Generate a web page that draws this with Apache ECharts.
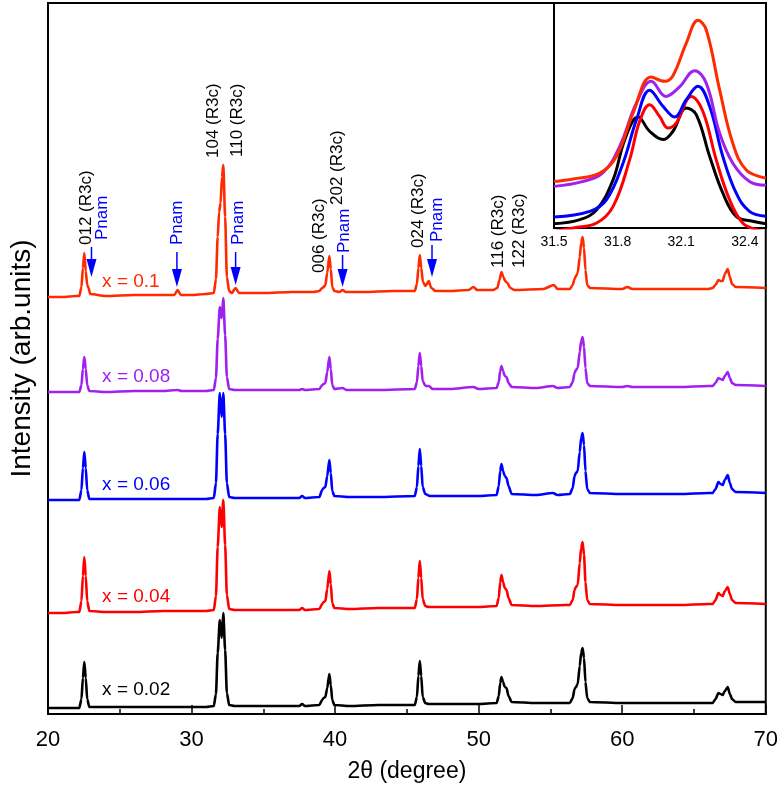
<!DOCTYPE html>
<html><head><meta charset="utf-8">
<script src="https://cdn.jsdelivr.net/npm/echarts@6/dist/echarts.min.js"></script>
<style>html,body{margin:0;padding:0;background:#fff}#c{width:781px;height:790px}</style>
</head><body><div id="c"></div>
<script>
// ---- DATA (2θ in degrees, intensity in arbitrary units above each pattern's own start level) ----
const sampleNames = ['x = 0.02', 'x = 0.04', 'x = 0.06', 'x = 0.08', 'x = 0.1'];
const stackOffsets = [6, 101, 214, 322, 417];

const pattern002 = [[20,0],[21,0],[22,0],[22.18,0],[22.33,9],[22.43,30],[22.53,46],[22.63,30],[22.73,9],[22.88,1],[23.5,1],[25,1],[27,1],[29,1],[30,1],[31,1],[31.55,2],[31.7,14],[31.82,55],[31.97,88],[32.1,70],[32.21,95],[32.34,58],[32.46,15],[32.62,3],[33,2],[35,2],[37.5,2],[37.7,4],[37.9,2],[38.9,3],[39.1,8],[39.2,10],[39.32,11],[39.45,20],[39.6,34],[39.7,23],[39.8,8],[39.95,3],[41,2],[43,3],[45.55,3],[45.7,11],[45.8,32],[45.9,47],[46.0,32],[46.1,11],[46.28,5],[46.5,4],[48,4],[50,4],[51.25,5],[51.4,12],[51.5,25],[51.59,31],[51.7,26],[51.82,21],[51.94,20],[52.08,12],[52.3,6],[54,5],[56,5],[56.35,5],[56.55,10],[56.68,19],[56.78,21],[56.9,24],[57.04,42],[57.14,55],[57.24,60],[57.34,50],[57.44,26],[57.56,10],[57.75,6],[60,5],[62,5],[64,5],[66,5],[66.3,5],[66.5,9],[66.7,15],[66.85,14],[67.0,13],[67.15,17],[67.35,21],[67.5,14],[67.65,9],[67.9,6],[70,6]];
const pattern004 = [[20,0],[21,0],[22,1],[22.18,1],[22.33,12],[22.43,37],[22.53,56],[22.63,37],[22.73,12],[22.88,2],[24,1],[26,1],[28,2],[30,2],[31,2],[31.55,3],[31.7,17],[31.82,66],[31.97,106],[32.1,86],[32.21,113],[32.34,68],[32.46,18],[32.62,4],[33,3],[35,3],[37.5,3],[37.7,5],[37.9,3],[38.9,4],[39.1,9],[39.2,11],[39.32,12],[39.45,24],[39.6,42],[39.7,29],[39.8,10],[39.95,5],[41,4],[43,5],[45.55,5],[45.7,14],[45.8,35],[45.9,52],[46.0,35],[46.1,14],[46.28,7],[46.5,6],[48,6],[50,6],[51.25,7],[51.4,15],[51.5,31],[51.59,38],[51.7,31],[51.82,25],[51.94,23],[52.08,15],[52.3,8],[54,7],[56,8],[56.35,8],[56.55,13],[56.68,23],[56.78,26],[56.9,28],[57.04,50],[57.14,65],[57.24,71],[57.34,58],[57.44,31],[57.56,13],[57.75,9],[60,8],[62,8],[64,8],[66,9],[66.3,9],[66.5,13],[66.7,20],[66.85,18],[67.0,17],[67.15,22],[67.35,26],[67.5,19],[67.65,13],[67.9,10],[70,9]];
const pattern006 = [[20,0],[21,0],[22,0],[22.18,0],[22.33,10],[22.43,32],[22.53,48],[22.63,32],[22.73,10],[22.88,1],[24,1],[26,1],[28,1],[30,1],[31,1],[31.55,2],[31.7,17],[31.82,66],[31.97,107],[32.1,83],[32.21,107],[32.34,66],[32.46,17],[32.62,3],[33,2],[35,2],[37.5,2],[37.7,4],[37.9,2],[38.9,3],[39.1,10],[39.2,12],[39.32,13],[39.45,24],[39.6,40],[39.7,27],[39.8,9],[39.95,4],[41,3],[43,3],[45.55,4],[45.7,13],[45.8,34],[45.9,51],[46.0,34],[46.1,13],[46.28,6],[46.6,4],[48,4],[50,4],[51.25,5],[51.4,14],[51.5,29],[51.59,36],[51.7,29],[51.82,24],[51.94,22],[52.08,14],[52.3,6],[54,5],[55.17,7],[55.5,5],[56.35,6],[56.55,12],[56.68,24],[56.78,27],[56.9,29],[57.04,48],[57.14,62],[57.24,67],[57.34,55],[57.44,29],[57.56,11],[57.75,7],[60,6],[62,6],[64,6],[66,7],[66.3,7],[66.5,11],[66.7,18],[66.85,16],[67.0,15],[67.15,20],[67.35,25],[67.5,17],[67.65,11],[67.9,8],[70,7]];
const pattern008 = [[20,0],[21,0],[22,0],[22.18,0],[22.33,7],[22.43,23],[22.53,35],[22.63,23],[22.73,7],[22.88,1],[24,0],[26,1],[28,1],[29.03,2],[29.3,1],[31,1],[31.55,2],[31.7,14],[31.82,53],[31.97,85],[32.1,74],[32.21,94],[32.34,57],[32.46,15],[32.62,3],[33,2],[35,2],[37.5,2],[37.7,3],[37.9,2],[38.9,3],[39.1,7],[39.2,8],[39.32,9],[39.45,20],[39.6,35],[39.7,23],[39.8,7],[39.95,3],[40.52,4],[40.8,2],[43,2],[45.55,3],[45.7,10],[45.8,26],[45.9,39],[46.0,26],[46.1,11],[46.3,6],[46.52,6],[46.8,3],[48,3],[49.63,5],[50,3],[51.25,4],[51.4,10],[51.5,21],[51.59,26],[51.7,21],[51.82,16],[51.94,15],[52.08,9],[52.3,5],[54,4],[55.17,6],[55.5,4],[56.35,5],[56.55,10],[56.68,19],[56.78,22],[56.9,24],[57.04,40],[57.14,51],[57.24,55],[57.34,45],[57.44,24],[57.56,9],[57.75,6],[60,5],[60.36,6],[60.7,5],[62,5],[64,5],[66,6],[66.3,6],[66.5,9],[66.7,14],[66.85,13],[67.0,12],[67.15,16],[67.35,20],[67.5,14],[67.65,9],[67.9,7],[70,6]];
const pattern01 = [[20,0],[21,0],[22,1],[22.18,1],[22.33,10],[22.43,29],[22.53,44],[22.63,26],[22.73,12],[22.8,10],[22.95,3],[24,1],[26,2],[28,2],[28.8,2],[29.03,7],[29.25,2],[30,2],[31,3],[31.55,4],[31.7,18],[31.82,60],[31.92,85],[32.02,94],[32.12,120],[32.21,132],[32.34,80],[32.46,20],[32.62,6],[32.8,4],[33.07,9],[33.3,4],[35,4],[37,5],[38.5,5],[38.9,6],[39.1,9],[39.2,10],[39.32,12],[39.45,24],[39.6,41],[39.7,28],[39.8,10],[39.95,6],[40.3,5],[40.52,7],[40.75,5],[42,5],[44,6],[45.55,6],[45.7,13],[45.8,29],[45.9,42],[46.0,29],[46.12,15],[46.3,11],[46.52,16],[46.7,9],[47,6],[48,6],[49.3,7],[49.63,10],[49.9,7],[51,7],[51.3,9],[51.45,17],[51.59,25],[51.72,20],[51.85,16],[52.0,14],[52.2,9],[52.5,7],[54.5,8],[55.24,12],[55.5,8],[56.35,8],[56.55,12],[56.68,18],[56.78,21],[56.9,24],[57.04,40],[57.14,54],[57.24,60],[57.34,49],[57.44,27],[57.56,12],[57.75,9],[60,8],[60.36,10],[60.7,8],[62,8],[64,8],[66,8],[66.3,9],[66.5,12],[66.7,17],[66.85,16],[67.0,16],[67.15,23],[67.35,28],[67.5,20],[67.65,13],[67.9,10],[70,9]];

// Inset: zoom of the (104)/(110) doublet, intensity scaled 0-100
const inset002 = [[31.5,1.9],[31.622,3.7],[31.701,8.1],[31.779,21.5],[31.834,39.3],[31.897,49.3],[31.951,43.0],[32.014,39.3],[32.061,43.0],[32.124,53.3],[32.171,50.4],[32.234,31.9],[32.296,15.6],[32.359,5.2],[32.437,3.0],[32.5,1.9]];
const inset004 = [[31.5,-1.5],[31.591,0],[31.701,2.2],[31.779,9.6],[31.857,30.4],[31.904,47.4],[31.951,54.8],[31.998,49.6],[32.038,44.4],[32.077,46.7],[32.147,58.5],[32.202,51.9],[32.265,30.4],[32.328,12.6],[32.39,2.2],[32.453,-0.7],[32.5,-1.5]];
const inset006 = [[31.5,4.9],[31.669,7.4],[31.748,12.6],[31.826,28.9],[31.889,48.1],[31.951,61.2],[32.014,54.1],[32.069,49.3],[32.124,57.0],[32.179,63.0],[32.234,54.1],[32.296,31.9],[32.359,15.6],[32.422,7.4],[32.5,5.2]];
const inset008 = [[31.5,18.5],[31.638,20.7],[31.732,24.7],[31.81,36.3],[31.889,55.6],[31.959,65.2],[32.027,58.5],[32.092,62.7],[32.163,69.9],[32.218,64.4],[32.281,42.2],[32.343,28.9],[32.422,20.7],[32.5,19.0]];
const inset01 = [[31.5,20.7],[31.59,21.8],[31.716,24.4],[31.795,31.9],[31.873,51.1],[31.959,67.1],[32.022,65.2],[32.061,67.7],[32.124,82.2],[32.179,92.3],[32.218,88.1],[32.281,61.5],[32.343,37.8],[32.406,25.9],[32.5,22.2]];

const mainPatterns = [pattern002, pattern004, pattern006, pattern008, pattern01];
const insetPatterns = [inset002, inset004, inset006, inset008, inset01];

// ---- STYLE / LAYOUT ----
const colors = ['#000000', '#ff0000', '#0000ff', '#a020f0', '#ff2a00'];
const FONT = '"Liberation Sans", Arial, sans-serif';
const BLUE = '#0000ff';

const chart = echarts.init(document.getElementById('c'), null, {renderer: 'canvas'});

const series = [];
mainPatterns.forEach((p, i) => {
  series.push({
    type: 'line', xAxisIndex: 0, yAxisIndex: 0, showSymbol: false, silent: true,
    smooth: 0.25, smoothMonotone: 'x',
    data: p.map(d => [d[0], d[1] + stackOffsets[i]]),
    lineStyle: {color: colors[i], width: 2.6}, z: 2 + i
  });
});
insetPatterns.forEach((p, i) => {
  series.push({
    type: 'line', xAxisIndex: 1, yAxisIndex: 1, showSymbol: false, silent: true,
    smooth: 0.4, clip: true,
    data: p,
    lineStyle: {color: colors[i], width: 3}, z: 20 + i
  });
});

chart.setOption({
  animation: false,
  backgroundColor: '#fff',
  textStyle: {fontFamily: FONT},
  grid: [
    {left: 43, right: 15, top: 3, bottom: 76, show: true, borderColor: '#000', borderWidth: 2, backgroundColor: 'rgba(0,0,0,0)'},
    {left: 554, right: 15, top: 3, bottom: 562, show: true, borderColor: '#000', borderWidth: 2, backgroundColor: '#fff', z: 10}
  ],
  xAxis: [
    {gridIndex: 0, type: 'value', min: 20, max: 70, interval: 10,
     axisLine: {show: true, lineStyle: {color: '#000', width: 2}},
     axisTick: {show: true, inside: true, length: 9, lineStyle: {color: '#000', width: 1.5}},
     minorTick: {show: true, splitNumber: 2, length: 5, lineStyle: {color: '#000', width: 1.5}},
     splitLine: {show: false},
     axisLabel: {color: '#000', fontSize: 22, margin: 15, fontFamily: FONT},
     name: '2θ (degree)', nameLocation: 'middle', nameGap: 46,
     nameTextStyle: {color: '#000', fontSize: 23, fontFamily: FONT}},
    {gridIndex: 1, type: 'value', min: 31.5, max: 32.5, interval: 0.3,
     axisLine: {show: true, lineStyle: {color: '#000', width: 2}},
     axisTick: {show: true, inside: true, length: 5, lineStyle: {color: '#000', width: 1.2}},
     minorTick: {show: true, splitNumber: 2, length: 5, lineStyle: {color: '#000', width: 1.2}},
     splitLine: {show: false},
     axisLabel: {color: '#000', fontSize: 14, margin: 7, showMaxLabel: false, fontFamily: FONT,
                 formatter: v => v.toFixed(1)}}
  ],
  yAxis: [
    {gridIndex: 0, type: 'value', min: 0, max: 711,
     axisLine: {show: true, lineStyle: {color: '#000', width: 2}},
     axisTick: {show: false}, axisLabel: {show: false}, splitLine: {show: false},
     name: 'Intensity (arb.units)', nameLocation: 'middle', nameGap: 12, nameRotate: 90,
     nameTextStyle: {color: '#000', fontSize: 28, fontFamily: FONT}},
    {gridIndex: 1, type: 'value', min: 0, max: 100, show: false}
  ],
  series: series
});

// ---- ANNOTATIONS (anchored in data coordinates through the axes) ----
const peakLabels = [
  {t: '012 (R3c)', x: 22.64, y: 469, c: '#000'},
  {t: 'Pnam', x: 23.75, y: 474, c: BLUE},
  {t: 'Pnam', x: 29.03, y: 469, c: BLUE},
  {t: '104 (R3c)', x: 31.52, y: 556, c: '#000'},
  {t: '110 (R3c)', x: 33.18, y: 557, c: '#000'},
  {t: 'Pnam', x: 33.25, y: 469, c: BLUE},
  {t: '006 (R3c)', x: 38.91, y: 441, c: '#000'},
  {t: '202 (R3c)', x: 40.17, y: 509, c: '#000'},
  {t: 'Pnam', x: 40.64, y: 461, c: BLUE},
  {t: '024 (R3c)', x: 45.83, y: 466, c: '#000'},
  {t: 'Pnam', x: 47.09, y: 472, c: BLUE},
  {t: '116 (R3c)', x: 51.36, y: 446, c: '#000'},
  {t: '122 (R3c)', x: 52.84, y: 446, c: '#000'}
];
const arrows = [
  {x: 23.03, y1: 467, y2: 437},
  {x: 28.98, y1: 462, y2: 427},
  {x: 33.07, y1: 462, y2: 429},
  {x: 40.52, y1: 459, y2: 427},
  {x: 46.75, y1: 469, y2: 437}
];
const sampleLabelPos = [24, 117, 229, 337, 432];

const g = [];
const px = (x, y) => chart.convertToPixel({xAxisIndex: 0, yAxisIndex: 0}, [x, y]);
peakLabels.forEach(a => {
  const p = px(a.x, a.y);
  g.push({type: 'text', x: p[0], y: p[1], rotation: Math.PI / 2, silent: true, z: 50,
    style: {text: a.t, fill: a.c, font: '17px ' + FONT, align: 'left', verticalAlign: 'middle'}});
});
arrows.forEach(a => {
  const t = px(a.x, a.y1), b = px(a.x, a.y2);
  g.push({type: 'line', silent: true, z: 50, shape: {x1: t[0], y1: t[1], x2: b[0], y2: b[1] - 14},
    style: {stroke: BLUE, lineWidth: 1.5}});
  g.push({type: 'polygon', silent: true, z: 50,
    shape: {points: [[b[0] - 5, b[1] - 18], [b[0] + 5, b[1] - 18], [b[0], b[1]]]},
    style: {fill: BLUE}});
});
sampleNames.forEach((n, i) => {
  const p = px(23.77, sampleLabelPos[i]);
  g.push({type: 'text', x: p[0], y: p[1], silent: true, z: 50,
    style: {text: n, fill: colors[i], font: '19px ' + FONT, align: 'left', verticalAlign: 'middle'}});
});
chart.setOption({graphic: g});
</script>
</body></html>
